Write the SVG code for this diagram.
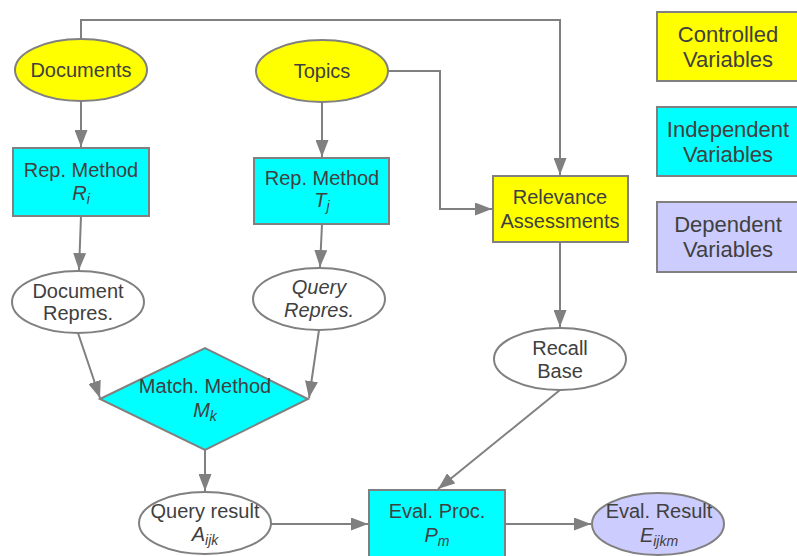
<svg xmlns="http://www.w3.org/2000/svg" width="797" height="556" viewBox="0 0 797 556">
<style>
  .n { stroke: #808080; stroke-width: 2; }
  .y { fill: #ffff00; }
  .c { fill: #00ffff; }
  .d { fill: #ccccff; }
  .w { fill: #ffffff; }
  text { font-family: "Liberation Sans", Arial, sans-serif; font-size: 20px; fill: #404040; text-anchor: middle; }
  .lg { font-size: 22px; }
  .it { font-style: italic; }
  .sub { font-size: 14px; }
  .e { fill: none; stroke: #808080; stroke-width: 2; marker-end: url(#ah); }
</style>
<defs>
  <marker id="ah" markerUnits="userSpaceOnUse" markerWidth="17" markerHeight="13" viewBox="0 0 17 13" refX="17" refY="6.5" orient="auto">
    <path d="M0,0 L17,6.5 L0,13 Z" fill="#808080"/>
  </marker>
</defs>
<rect width="797" height="556" fill="#ffffff"/>

<g id="connectors">
  <path class="e" d="M81,39 V20 H560 V175"/>
  <path class="e" d="M388,71 H440 V209 H492"/>
  <path class="e" d="M81,101 V147"/>
  <path class="e" d="M322,102 V157"/>
  <path class="e" d="M81,216 L79,270"/>
  <path class="e" d="M322,224 L320,267"/>
  <path class="e" d="M78,333 L100,398"/>
  <path class="e" d="M319,330 L309,398"/>
  <path class="e" d="M205,450 V491"/>
  <path class="e" d="M271,524 H368"/>
  <path class="e" d="M505,524 H591"/>
  <path class="e" d="M560,242 V327"/>
  <path class="e" d="M560,390 L438,489"/>
</g>

<g id="documents">
  <ellipse class="n y" cx="81" cy="70" rx="66" ry="31"/>
  <text x="81" y="77">Documents</text>
</g>
<g id="topics">
  <ellipse class="n y" cx="322" cy="71" rx="66" ry="31"/>
  <text x="322" y="78">Topics</text>
</g>
<g id="rep-method-r">
  <rect class="n c" x="13" y="148" width="136" height="68"/>
  <text x="81" y="177">Rep. Method</text>
  <text x="81" y="200" class="it">R<tspan class="sub" dy="4">i</tspan></text>
</g>
<g id="rep-method-t">
  <rect class="n c" x="254" y="158" width="135" height="66"/>
  <text x="322" y="185">Rep. Method</text>
  <text x="322" y="207" class="it">T<tspan class="sub" dy="4">j</tspan></text>
</g>
<g id="relevance">
  <rect class="n y" x="493" y="176" width="135" height="66"/>
  <text x="560" y="204">Relevance</text>
  <text x="560" y="228">Assessments</text>
</g>
<g id="legend-controlled">
  <rect class="n y" x="657" y="12" width="160" height="69"/>
  <text class="lg" x="728" y="42">Controlled</text>
  <text class="lg" x="728" y="67">Variables</text>
</g>
<g id="legend-independent">
  <rect class="n c" x="657" y="107" width="160" height="69"/>
  <text class="lg" x="728" y="137">Independent</text>
  <text class="lg" x="728" y="162">Variables</text>
</g>
<g id="legend-dependent">
  <rect class="n d" x="657" y="202" width="160" height="70"/>
  <text class="lg" x="728" y="232">Dependent</text>
  <text class="lg" x="728" y="257">Variables</text>
</g>
<g id="document-repres">
  <ellipse class="n w" cx="78" cy="302" rx="66" ry="31"/>
  <text x="78" y="298">Document</text>
  <text x="78" y="320">Repres.</text>
</g>
<g id="query-repres">
  <ellipse class="n w" cx="319" cy="299" rx="66" ry="31"/>
  <text x="319" y="294" class="it">Query</text>
  <text x="319" y="317" class="it">Repres.</text>
</g>
<g id="match-method">
  <polygon class="n c" points="100,399 205,348 308,399 205,450"/>
  <text x="205" y="393">Match. Method</text>
  <text x="205" y="417" class="it">M<tspan class="sub" dy="4">k</tspan></text>
</g>
<g id="recall-base">
  <ellipse class="n w" cx="560" cy="359" rx="66" ry="31"/>
  <text x="560" y="355">Recall</text>
  <text x="560" y="378">Base</text>
</g>
<g id="query-result">
  <ellipse class="n w" cx="205" cy="523" rx="66" ry="31"/>
  <text x="205" y="518">Query result</text>
  <text x="205" y="541" class="it">A<tspan class="sub" dy="4">ijk</tspan></text>
</g>
<g id="eval-proc">
  <rect class="n c" x="369" y="490" width="136" height="80"/>
  <text x="437" y="518">Eval. Proc.</text>
  <text x="437" y="542" class="it">P<tspan class="sub" dy="4">m</tspan></text>
</g>
<g id="eval-result">
  <ellipse class="n d" cx="658" cy="524" rx="66" ry="31"/>
  <text x="659" y="518">Eval. Result</text>
  <text x="659" y="542" class="it">E<tspan class="sub" dy="4">ijkm</tspan></text>
</g>
</svg>
